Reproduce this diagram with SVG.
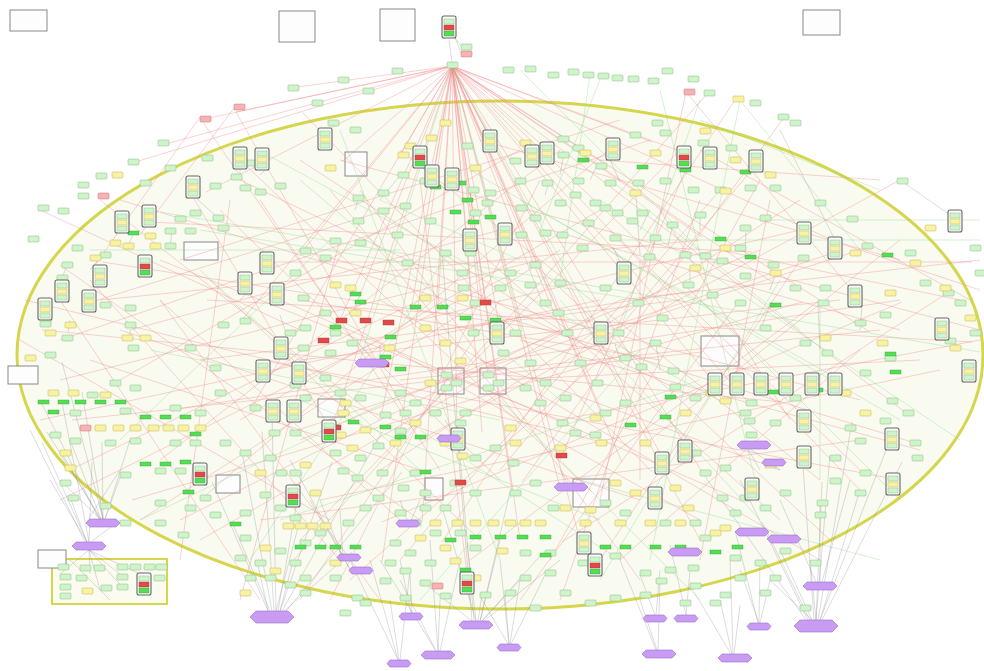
<svg xmlns="http://www.w3.org/2000/svg" xmlns:xlink="http://www.w3.org/1999/xlink" width="984" height="671" viewBox="0 0 984 671">
<style>
.er{fill:none;stroke:#f28a8a;stroke-width:.6;opacity:.65}
.eg{fill:none;stroke:#8ad88a;stroke-width:.6;opacity:.6}
.ek{fill:none;stroke:#8a8a8a;stroke-width:.5;opacity:.6}
.bx{fill:#fdfdfd;stroke:#888;stroke-width:1}
</style>
<defs>
<rect id="g" width="11" height="6" rx="1" fill="#cff4c9" stroke="#86b886" stroke-width=".5"/>
<rect id="y" width="11" height="6" rx="1" fill="#f7f2a4" stroke="#c2b24e" stroke-width=".5"/>
<rect id="r" width="11" height="6" rx="1" fill="#f5b3b3" stroke="#c47676" stroke-width=".5"/>
<rect id="G" width="11" height="4" fill="#52e052" stroke="#3a9a3a" stroke-width=".4"/>
<rect id="R" width="11" height="5" fill="#e24a4a" stroke="#a33" stroke-width=".4"/>
<g id="c"><rect width="14" height="22" rx="2" fill="#fafafa" stroke="#666" stroke-width="1.1"/><rect x="2" y="3" width="10" height="5" fill="#cff4c9" stroke="#86b886" stroke-width=".4"/><rect x="2" y="9" width="10" height="5" fill="#f7f2a4" stroke="#c2b24e" stroke-width=".4"/><rect x="2" y="15" width="10" height="5" fill="#cff4c9" stroke="#86b886" stroke-width=".4"/></g>
<g id="c2"><rect width="14" height="22" rx="2" fill="#fafafa" stroke="#666" stroke-width="1.1"/><rect x="2" y="3" width="10" height="5" fill="#cff4c9" stroke="#86b886" stroke-width=".4"/><rect x="2" y="9" width="10" height="5" fill="#e24a4a" stroke="#a33" stroke-width=".4"/><rect x="2" y="15" width="10" height="5" fill="#52e052" stroke="#3a9a3a" stroke-width=".4"/></g>
<polygon id="h" points="3,0 21,0 24,3.5 21,7 3,7 0,3.5" fill="#c89cf2" stroke="#9a6cd0" stroke-width=".6"/>
<polygon id="m" points="4,0 30,0 34,4 30,8 4,8 0,4" fill="#c89cf2" stroke="#9a6cd0" stroke-width=".6"/>
<polygon id="H" points="6,0 38,0 44,6 38,12 6,12 0,6" fill="#c89cf2" stroke="#9a6cd0" stroke-width=".6"/>
</defs>
<rect width="984" height="671" fill="#fff"/>
<g id="compartments">
<ellipse id="cell" cx="500" cy="355" rx="483" ry="254" fill="#f9fbf1" stroke="#d6d64e" stroke-width="3"/>
<rect id="degbox" x="52" y="559" width="115" height="45" fill="#fbfbef" stroke="#d6d64e" stroke-width="2"/>
<rect class="bx" x="10" y="10" width="37" height="21"/>
<rect class="bx" x="279" y="11" width="36" height="31"/>
<rect class="bx" x="380" y="9" width="35" height="32"/>
<rect class="bx" x="803" y="10" width="37" height="25"/>
<rect class="bx" x="8" y="366" width="30" height="18"/>
<rect class="bx" x="38" y="550" width="28" height="18"/>
<rect class="bx" x="184" y="242" width="34" height="18"/>
<rect class="bx" x="701" y="336" width="38" height="30"/>
<rect class="bx" x="573" y="479" width="36" height="28"/>
<rect class="bx" x="425" y="478" width="18" height="22"/>
<rect class="bx" x="216" y="475" width="24" height="18"/>
<rect class="bx" x="318" y="399" width="27" height="18"/>
<rect class="bx" x="345" y="152" width="22" height="24"/>
<rect class="bx" x="438" y="368" width="26" height="26" stroke="#666" stroke-width="1.3"/>
<rect class="bx" x="480" y="368" width="26" height="26" stroke="#666" stroke-width="1.3"/>
</g>
<g id="connectors">
<path class="er" d="M452 66L200 120M452 66L236 112M452 66L162 145M452 66L132 163M452 66L206 192M452 66L242 320M452 66L252 407M452 66L302 252M452 66L352 315M452 66L332 427M452 66L382 412M452 66L412 305M452 66L438 305M452 66L472 302M452 66L482 302M452 66L488 377M452 66L500 330M452 66L542 302M452 66L562 332M452 66L592 382M452 66L602 412M452 66L622 462M452 66L662 457M452 66L702 472M452 66L722 392M452 66L748 402M452 66L782 377M452 66L832 240M452 66L870 332M452 66L905 412M452 66L862 492M452 66L682 152M452 66L652 142M452 66L602 162M452 66L542 145M452 66L492 142M452 66L432 182M452 66L402 152M452 66L342 162M452 66L290 88M452 66L702 237M452 66L772 282M452 66L560 488M452 66L482 432M452 66L512 492M452 66L457 442M452 66L382 562M452 66L422 522M452 66L580 540M452 66L520 540M452 66L700 540M452 66L340 320"/>
<path class="er" d="M82 305L402 205M102 262L562 332M207 300L972 342M42 330L782 402M150 222L752 252M240 160L592 492M190 192L332 432M262 262L972 262M302 112L652 472M706 95L292 562M735 100L442 542M782 120L522 482M842 250L292 432M902 302L382 522M952 290L562 542M120 200L912 442M25 300L602 442M72 420L702 352M132 500L802 302M60 265L420 520M240 180L700 400M170 410L900 300M200 118L340 320M236 112L410 420M340 160L980 330M400 150L820 480M560 150L160 460M620 140L200 500M680 150L300 540M650 140L60 340M480 140L900 260M500 230L130 330M460 235L780 520M300 250L860 400M280 300L740 500M260 360L900 480M360 190L640 580M420 180L470 600M540 180L330 600M600 210L240 420M720 190L400 560M760 180L550 560M800 230L420 320M840 300L300 360M920 360L500 380M600 300L40 420M700 240L100 300M520 270L60 500M560 330L180 520M380 300L820 560M300 440L760 250M180 260L620 120M120 380L520 150M700 150L970 300M600 160L880 180M830 240L980 290M234 108L140 235M200 117L95 265M686 92L600 500M686 92L860 300M340 320L700 520M40 210L300 330M100 200L380 420M650 440L900 240"/>
<path class="er" d="M610 230L860 470M640 260L640 480M660 210L790 420M690 160L560 460M720 250L960 300M620 300L980 260M740 300L520 600M800 260L600 560M770 200L700 560M550 230L900 330M530 260L830 540M610 330L860 250M520 340L920 450M480 360L780 470M440 330L700 290M400 380L880 330M300 300L660 360M200 360L680 300M160 260L560 420M220 210L500 480M260 200L440 470M300 160L560 330M330 190L520 420M210 280L480 540M160 300L380 600M120 330L640 500M90 360L420 470M60 380L540 260M70 470L420 300M140 520L560 250M200 540L620 300M260 520L860 440M320 500L940 370M380 470L800 200M420 440L900 180M500 470L760 160M560 420L980 340M620 560L860 350M560 600L700 200M470 560L820 300M350 580L600 360M300 600L500 300M240 600L340 240M180 560L230 200M400 520L160 300M90 280L340 560M60 300L260 600M20 340L330 520"/>
<path class="eg" d="M160 212L980 352M262 152L722 402M452 66L522 332M452 66L600 330M452 66L360 360M200 230L640 300M300 180L560 400M470 170L900 420M520 200L840 380M740 100L860 250M700 100L620 330M330 240L120 440M390 400L140 520M420 430L620 560M500 400L700 600M580 480L880 560M560 300L760 520M600 200L960 440M340 130L500 560M280 520L700 380M450 250L250 560M820 300L820 480M640 350L420 600M90 250L400 250M760 220L980 220M610 180L800 330M380 200L520 260M660 90L760 500M600 80L540 230M780 280L600 580M880 190L700 120M420 470L200 270M590 75L560 280M520 70L700 250M740 100L650 560M620 240L980 240M700 300L900 500M300 400L600 520M150 350L500 420"/>
<path class="ek" d="M212 482L268 611M232 522L270 611M242 452L272 611M262 432L274 611M272 412L276 611M302 472L278 611M332 462L280 611M382 432L282 611M352 552L284 611M402 472L286 611M258 565L268 611M292 565L280 611M300 520L276 611M442 507L476 621M467 542L476 621M482 594L478 621M457 422L474 621M442 252L472 621M510 492L480 621M540 556L482 621M500 540L480 621M420 580L472 621M520 580L482 621M560 560L484 621M822 482L816 620M802 452L814 620M852 422L818 620M762 522L810 620M902 462L822 620M702 472L806 620M860 490L820 620M780 550L812 620M740 480L808 620M890 440L820 620M830 455L816 620M770 580L812 620M810 560L816 620M820 500L820 582M850 480L822 582M780 500L816 582M62 362L103 519M82 392L103 519M47 432L101 519M102 442L103 519M122 472L105 519M62 482L100 519M40 400L99 519M70 440L101 519M100 500L103 519M130 440L105 519M60 450L100 519M62 402L89 542M42 442L87 542M92 462L89 542M70 497L87 542M120 520L91 542M30 430L85 542M50 480L87 542M89 550L60 574M89 550L90 574M89 550L120 574M89 550L140 574M89 550L100 590M89 550L125 590M440 600L438 651M400 580L436 651M460 560L440 651M430 540L438 651M380 560L436 651M505 595L509 644M520 580L510 644M545 575L511 644M480 596L508 644M500 560L509 644M390 600L399 660M350 560L398 660M410 570L400 660M370 560L398 660M640 600L657 650M660 580L658 650M620 560L656 650M720 600L732 654M730 560L733 654M690 585L731 654M740 605L734 654M740 570L759 623M770 580L760 623M760 560L759 623M735 530L758 623M640 575L655 615M660 570L656 615M690 570L686 615M670 545L686 615M400 560L411 613M410 575L412 613M449 40L452 62M455 38L461 46M455 38L461 53M110 600L70 560M120 470L86 523M760 470L748 449M780 470L750 449M290 460L351 571M310 500L351 571M320 500L343 558M340 510L343 558M780 130L835 240M900 180L950 215M560 470L570 487M400 500L408 523M420 500L410 523M360 345L372 359M380 345L380 359M445 420L455 435M636 196L640 255M640 230L650 210M668 246L672 228M700 230L700 218M745 252L746 232M770 290L775 275M690 270L690 285M613 247L620 262M590 180L598 163M620 182L610 160M560 175L563 158M545 195L548 185M470 190L472 205M380 200L398 178M355 210L358 200M240 175L240 169M260 175L265 170M218 218L196 198M172 230L170 248M133 235L128 245M152 212L145 214M90 270L100 258M62 278L66 268M50 325L52 320M70 320L68 332M130 330L130 340M300 300L300 296M300 330L290 335M332 335L330 340M240 300L245 295M280 315L285 330M600 345L602 344M620 360L615 344M660 370L656 345M760 330L770 306M820 350L818 306M860 330L862 306"/>
</g>
<g id="nodes">
<g id="hub"><use href="#c2" x="442" y="16"/></g>
<g id="t1"><use href="#g" x="461" y="44"/></g><g id="t2"><use href="#r" x="461" y="51"/></g><g id="t3"><use href="#g" x="447" y="62"/></g>
<g id="g1"><use href="#g" x="288" y="85"/></g><g id="g2"><use href="#g" x="338" y="77"/></g><g id="g3"><use href="#g" x="392" y="68"/></g><g id="g4"><use href="#g" x="503" y="67"/></g><g id="g5"><use href="#g" x="525" y="66"/></g><g id="g6"><use href="#g" x="548" y="72"/></g><g id="g7"><use href="#g" x="568" y="69"/></g><g id="g8"><use href="#g" x="583" y="72"/></g><g id="g9"><use href="#g" x="598" y="73"/></g><g id="g10"><use href="#g" x="612" y="75"/></g><g id="g11"><use href="#g" x="628" y="76"/></g><g id="g12"><use href="#g" x="648" y="78"/></g><g id="g13"><use href="#g" x="662" y="68"/></g><g id="g14"><use href="#g" x="688" y="76"/></g><g id="g15"><use href="#g" x="704" y="90"/></g><g id="g16"><use href="#g" x="750" y="100"/></g><g id="g17"><use href="#g" x="778" y="114"/></g><g id="g18"><use href="#g" x="790" y="120"/></g><g id="g19"><use href="#g" x="363" y="88"/></g><g id="g20"><use href="#g" x="312" y="100"/></g><g id="g21"><use href="#g" x="158" y="140"/></g><g id="g22"><use href="#g" x="128" y="159"/></g><g id="g23"><use href="#g" x="96" y="173"/></g><g id="g24"><use href="#g" x="78" y="182"/></g><g id="g25"><use href="#g" x="78" y="193"/></g><g id="g26"><use href="#g" x="38" y="205"/></g><g id="g27"><use href="#g" x="28" y="236"/></g><g id="g28"><use href="#g" x="58" y="208"/></g><g id="g29"><use href="#g" x="897" y="178"/></g><g id="g30"><use href="#g" x="905" y="250"/></g><g id="g31"><use href="#g" x="920" y="280"/></g><g id="g32"><use href="#g" x="943" y="290"/></g><g id="g33"><use href="#g" x="970" y="245"/></g><g id="g34"><use href="#g" x="975" y="270"/></g><g id="g35"><use href="#g" x="955" y="300"/></g><g id="g36"><use href="#g" x="970" y="330"/></g><g id="g37"><use href="#g" x="945" y="338"/></g><g id="g38"><use href="#g" x="880" y="312"/></g><g id="g39"><use href="#g" x="855" y="320"/></g><g id="g40"><use href="#g" x="862" y="243"/></g><g id="g41"><use href="#g" x="847" y="216"/></g><g id="g42"><use href="#g" x="815" y="200"/></g><g id="g43"><use href="#g" x="798" y="255"/></g><g id="g44"><use href="#g" x="820" y="285"/></g><g id="g45"><use href="#g" x="818" y="300"/></g><g id="g46"><use href="#g" x="790" y="285"/></g><g id="g47"><use href="#g" x="760" y="325"/></g><g id="g48"><use href="#g" x="800" y="340"/></g><g id="g49"><use href="#g" x="822" y="350"/></g><g id="g50"><use href="#g" x="860" y="370"/></g><g id="g51"><use href="#g" x="885" y="355"/></g><g id="g52"><use href="#g" x="887" y="398"/></g><g id="g53"><use href="#g" x="903" y="410"/></g><g id="g54"><use href="#g" x="880" y="418"/></g><g id="g55"><use href="#g" x="845" y="425"/></g><g id="g56"><use href="#g" x="855" y="438"/></g><g id="g57"><use href="#g" x="830" y="455"/></g><g id="g58"><use href="#g" x="860" y="470"/></g><g id="g59"><use href="#g" x="855" y="490"/></g><g id="g60"><use href="#g" x="830" y="478"/></g><g id="g61"><use href="#g" x="817" y="500"/></g><g id="g62"><use href="#g" x="815" y="512"/></g><g id="g63"><use href="#g" x="910" y="440"/></g><g id="g64"><use href="#g" x="912" y="455"/></g><g id="g65"><use href="#g" x="746" y="400"/></g><g id="g66"><use href="#g" x="740" y="410"/></g><g id="g67"><use href="#g" x="744" y="418"/></g><g id="g68"><use href="#g" x="746" y="432"/></g><g id="g69"><use href="#g" x="770" y="420"/></g><g id="g70"><use href="#g" x="790" y="395"/></g><g id="g71"><use href="#g" x="690" y="395"/></g><g id="g72"><use href="#g" x="668" y="368"/></g><g id="g73"><use href="#g" x="670" y="384"/></g><g id="g74"><use href="#g" x="636" y="364"/></g><g id="g75"><use href="#g" x="650" y="340"/></g><g id="g76"><use href="#g" x="633" y="300"/></g><g id="g77"><use href="#g" x="657" y="315"/></g><g id="g78"><use href="#g" x="644" y="254"/></g><g id="g79"><use href="#g" x="610" y="235"/></g><g id="g80"><use href="#g" x="627" y="218"/></g><g id="g81"><use href="#g" x="667" y="222"/></g><g id="g82"><use href="#g" x="695" y="212"/></g><g id="g83"><use href="#g" x="715" y="187"/></g><g id="g84"><use href="#g" x="740" y="225"/></g><g id="g85"><use href="#g" x="760" y="215"/></g><g id="g86"><use href="#g" x="683" y="282"/></g><g id="g87"><use href="#g" x="707" y="292"/></g><g id="g88"><use href="#g" x="735" y="300"/></g><g id="g89"><use href="#g" x="600" y="285"/></g><g id="g90"><use href="#g" x="613" y="330"/></g><g id="g91"><use href="#g" x="620" y="355"/></g><g id="g92"><use href="#g" x="592" y="380"/></g><g id="g93"><use href="#g" x="575" y="360"/></g><g id="g94"><use href="#g" x="562" y="330"/></g><g id="g95"><use href="#g" x="553" y="310"/></g><g id="g96"><use href="#g" x="540" y="300"/></g><g id="g97"><use href="#g" x="555" y="280"/></g><g id="g98"><use href="#g" x="530" y="262"/></g><g id="g99"><use href="#g" x="525" y="282"/></g><g id="g100"><use href="#g" x="505" y="270"/></g><g id="g101"><use href="#g" x="495" y="285"/></g><g id="g102"><use href="#g" x="510" y="330"/></g><g id="g103"><use href="#g" x="498" y="350"/></g><g id="g104"><use href="#g" x="468" y="330"/></g><g id="g105"><use href="#g" x="470" y="300"/></g><g id="g106"><use href="#g" x="457" y="270"/></g><g id="g107"><use href="#g" x="458" y="285"/></g><g id="g108"><use href="#g" x="470" y="210"/></g><g id="g109"><use href="#g" x="482" y="200"/></g><g id="g110"><use href="#g" x="516" y="232"/></g><g id="g111"><use href="#g" x="465" y="250"/></g><g id="g112"><use href="#g" x="440" y="250"/></g><g id="g113"><use href="#g" x="425" y="218"/></g><g id="g114"><use href="#g" x="400" y="203"/></g><g id="g115"><use href="#g" x="378" y="208"/></g><g id="g116"><use href="#g" x="392" y="232"/></g><g id="g117"><use href="#g" x="402" y="260"/></g><g id="g118"><use href="#g" x="355" y="240"/></g><g id="g119"><use href="#g" x="330" y="238"/></g><g id="g120"><use href="#g" x="320" y="255"/></g><g id="g121"><use href="#g" x="300" y="248"/></g><g id="g122"><use href="#g" x="290" y="270"/></g><g id="g123"><use href="#g" x="285" y="330"/></g><g id="g124"><use href="#g" x="300" y="325"/></g><g id="g125"><use href="#g" x="320" y="310"/></g><g id="g126"><use href="#g" x="298" y="295"/></g><g id="g127"><use href="#g" x="330" y="330"/></g><g id="g128"><use href="#g" x="325" y="350"/></g><g id="g129"><use href="#g" x="347" y="340"/></g><g id="g130"><use href="#g" x="298" y="345"/></g><g id="g131"><use href="#g" x="213" y="215"/></g><g id="g132"><use href="#g" x="218" y="225"/></g><g id="g133"><use href="#g" x="190" y="210"/></g><g id="g134"><use href="#g" x="175" y="216"/></g><g id="g135"><use href="#g" x="185" y="228"/></g><g id="g136"><use href="#g" x="165" y="228"/></g><g id="g137"><use href="#g" x="165" y="243"/></g><g id="g138"><use href="#g" x="100" y="252"/></g><g id="g139"><use href="#g" x="72" y="245"/></g><g id="g140"><use href="#g" x="62" y="262"/></g><g id="g141"><use href="#g" x="57" y="275"/></g><g id="g142"><use href="#g" x="40" y="321"/></g><g id="g143"><use href="#g" x="62" y="335"/></g><g id="g144"><use href="#g" x="45" y="352"/></g><g id="g145"><use href="#g" x="100" y="302"/></g><g id="g146"><use href="#g" x="125" y="305"/></g><g id="g147"><use href="#g" x="125" y="322"/></g><g id="g148"><use href="#g" x="128" y="345"/></g><g id="g149"><use href="#g" x="185" y="345"/></g><g id="g150"><use href="#g" x="240" y="318"/></g><g id="g151"><use href="#g" x="218" y="322"/></g><g id="g152"><use href="#g" x="210" y="365"/></g><g id="g153"><use href="#g" x="215" y="390"/></g><g id="g154"><use href="#g" x="195" y="410"/></g><g id="g155"><use href="#g" x="170" y="405"/></g><g id="g156"><use href="#g" x="130" y="385"/></g><g id="g157"><use href="#g" x="110" y="380"/></g><g id="g158"><use href="#g" x="120" y="408"/></g><g id="g159"><use href="#g" x="87" y="392"/></g><g id="g160"><use href="#g" x="70" y="410"/></g><g id="g161"><use href="#g" x="50" y="432"/></g><g id="g162"><use href="#g" x="70" y="438"/></g><g id="g163"><use href="#g" x="105" y="440"/></g><g id="g164"><use href="#g" x="130" y="438"/></g><g id="g165"><use href="#g" x="120" y="472"/></g><g id="g166"><use href="#g" x="155" y="468"/></g><g id="g167"><use href="#g" x="175" y="468"/></g><g id="g168"><use href="#g" x="155" y="500"/></g><g id="g169"><use href="#g" x="120" y="520"/></g><g id="g170"><use href="#g" x="100" y="503"/></g><g id="g171"><use href="#g" x="68" y="495"/></g><g id="g172"><use href="#g" x="60" y="480"/></g><g id="g173"><use href="#g" x="185" y="505"/></g><g id="g174"><use href="#g" x="155" y="520"/></g><g id="g175"><use href="#g" x="200" y="495"/></g><g id="g176"><use href="#g" x="178" y="532"/></g><g id="g177"><use href="#g" x="210" y="512"/></g><g id="g178"><use href="#g" x="240" y="510"/></g><g id="g179"><use href="#g" x="260" y="492"/></g><g id="g180"><use href="#g" x="275" y="505"/></g><g id="g181"><use href="#g" x="290" y="515"/></g><g id="g182"><use href="#g" x="240" y="535"/></g><g id="g183"><use href="#g" x="255" y="560"/></g><g id="g184"><use href="#g" x="265" y="575"/></g><g id="g185"><use href="#g" x="290" y="560"/></g><g id="g186"><use href="#g" x="315" y="530"/></g><g id="g187"><use href="#g" x="343" y="520"/></g><g id="g188"><use href="#g" x="360" y="505"/></g><g id="g189"><use href="#g" x="373" y="495"/></g><g id="g190"><use href="#g" x="352" y="475"/></g><g id="g191"><use href="#g" x="338" y="468"/></g><g id="g192"><use href="#g" x="330" y="450"/></g><g id="g193"><use href="#g" x="355" y="455"/></g><g id="g194"><use href="#g" x="373" y="443"/></g><g id="g195"><use href="#g" x="380" y="412"/></g><g id="g196"><use href="#g" x="400" y="410"/></g><g id="g197"><use href="#g" x="395" y="428"/></g><g id="g198"><use href="#g" x="377" y="470"/></g><g id="g199"><use href="#g" x="410" y="470"/></g><g id="g200"><use href="#g" x="398" y="485"/></g><g id="g201"><use href="#g" x="420" y="490"/></g><g id="g202"><use href="#g" x="440" y="505"/></g><g id="g203"><use href="#g" x="420" y="505"/></g><g id="g204"><use href="#g" x="430" y="530"/></g><g id="g205"><use href="#g" x="455" y="530"/></g><g id="g206"><use href="#g" x="470" y="545"/></g><g id="g207"><use href="#g" x="520" y="550"/></g><g id="g208"><use href="#g" x="545" y="550"/></g><g id="g209"><use href="#g" x="578" y="560"/></g><g id="g210"><use href="#g" x="610" y="553"/></g><g id="g211"><use href="#g" x="640" y="570"/></g><g id="g212"><use href="#g" x="665" y="567"/></g><g id="g213"><use href="#g" x="688" y="565"/></g><g id="g214"><use href="#g" x="735" y="575"/></g><g id="g215"><use href="#g" x="730" y="555"/></g><g id="g216"><use href="#g" x="640" y="592"/></g><g id="g217"><use href="#g" x="656" y="578"/></g><g id="g218"><use href="#g" x="690" y="583"/></g><g id="g219"><use href="#g" x="720" y="592"/></g><g id="g220"><use href="#g" x="755" y="560"/></g><g id="g221"><use href="#g" x="770" y="575"/></g><g id="g222"><use href="#g" x="760" y="590"/></g><g id="g223"><use href="#g" x="810" y="560"/></g><g id="g224"><use href="#g" x="780" y="548"/></g><g id="g225"><use href="#g" x="545" y="570"/></g><g id="g226"><use href="#g" x="520" y="575"/></g><g id="g227"><use href="#g" x="505" y="590"/></g><g id="g228"><use href="#g" x="480" y="592"/></g><g id="g229"><use href="#g" x="440" y="593"/></g><g id="g230"><use href="#g" x="420" y="580"/></g><g id="g231"><use href="#g" x="425" y="560"/></g><g id="g232"><use href="#g" x="400" y="568"/></g><g id="g233"><use href="#g" x="385" y="560"/></g><g id="g234"><use href="#g" x="380" y="578"/></g><g id="g235"><use href="#g" x="352" y="595"/></g><g id="g236"><use href="#g" x="330" y="575"/></g><g id="g237"><use href="#g" x="300" y="575"/></g><g id="g238"><use href="#g" x="285" y="582"/></g><g id="g239"><use href="#g" x="275" y="548"/></g><g id="g240"><use href="#g" x="300" y="540"/></g><g id="g241"><use href="#g" x="390" y="540"/></g><g id="g242"><use href="#g" x="405" y="550"/></g><g id="g243"><use href="#g" x="410" y="520"/></g><g id="g244"><use href="#g" x="395" y="510"/></g><g id="g245"><use href="#g" x="290" y="470"/></g><g id="g246"><use href="#g" x="276" y="470"/></g><g id="g247"><use href="#g" x="265" y="455"/></g><g id="g248"><use href="#g" x="269" y="430"/></g><g id="g249"><use href="#g" x="290" y="430"/></g><g id="g250"><use href="#g" x="250" y="405"/></g><g id="g251"><use href="#g" x="240" y="450"/></g><g id="g252"><use href="#g" x="220" y="440"/></g><g id="g253"><use href="#g" x="170" y="440"/></g><g id="g254"><use href="#g" x="190" y="440"/></g><g id="g255"><use href="#g" x="540" y="230"/></g><g id="g256"><use href="#g" x="557" y="232"/></g><g id="g257"><use href="#g" x="577" y="245"/></g><g id="g258"><use href="#g" x="583" y="220"/></g><g id="g259"><use href="#g" x="590" y="200"/></g><g id="g260"><use href="#g" x="570" y="192"/></g><g id="g261"><use href="#g" x="555" y="200"/></g><g id="g262"><use href="#g" x="516" y="205"/></g><g id="g263"><use href="#g" x="530" y="215"/></g><g id="g264"><use href="#g" x="600" y="205"/></g><g id="g265"><use href="#g" x="612" y="210"/></g><g id="g266"><use href="#g" x="637" y="210"/></g><g id="g267"><use href="#g" x="650" y="235"/></g><g id="g268"><use href="#g" x="680" y="252"/></g><g id="g269"><use href="#g" x="700" y="253"/></g><g id="g270"><use href="#g" x="717" y="258"/></g><g id="g271"><use href="#g" x="735" y="245"/></g><g id="g272"><use href="#g" x="740" y="273"/></g><g id="g273"><use href="#g" x="768" y="262"/></g><g id="g274"><use href="#g" x="620" y="400"/></g><g id="g275"><use href="#g" x="600" y="410"/></g><g id="g276"><use href="#g" x="590" y="432"/></g><g id="g277"><use href="#g" x="570" y="430"/></g><g id="g278"><use href="#g" x="557" y="420"/></g><g id="g279"><use href="#g" x="535" y="400"/></g><g id="g280"><use href="#g" x="520" y="385"/></g><g id="g281"><use href="#g" x="540" y="380"/></g><g id="g282"><use href="#g" x="560" y="395"/></g><g id="g283"><use href="#g" x="525" y="360"/></g><g id="g284"><use href="#g" x="460" y="410"/></g><g id="g285"><use href="#g" x="430" y="410"/></g><g id="g286"><use href="#g" x="470" y="455"/></g><g id="g287"><use href="#g" x="490" y="445"/></g><g id="g288"><use href="#g" x="508" y="460"/></g><g id="g289"><use href="#g" x="510" y="490"/></g><g id="g290"><use href="#g" x="530" y="480"/></g><g id="g291"><use href="#g" x="548" y="505"/></g><g id="g292"><use href="#g" x="600" y="500"/></g><g id="g293"><use href="#g" x="620" y="510"/></g><g id="g294"><use href="#g" x="700" y="470"/></g><g id="g295"><use href="#g" x="690" y="450"/></g><g id="g296"><use href="#g" x="720" y="465"/></g><g id="g297"><use href="#g" x="740" y="495"/></g><g id="g298"><use href="#g" x="730" y="510"/></g><g id="g299"><use href="#g" x="760" y="505"/></g><g id="g300"><use href="#g" x="780" y="490"/></g><g id="g301"><use href="#g" x="717" y="495"/></g><g id="g302"><use href="#g" x="660" y="520"/></g><g id="g303"><use href="#g" x="690" y="520"/></g><g id="g304"><use href="#g" x="700" y="535"/></g><g id="g305"><use href="#g" x="450" y="480"/></g><g id="g306"><use href="#g" x="470" y="490"/></g><g id="g307"><use href="#g" x="455" y="420"/></g><g id="g308"><use href="#g" x="410" y="400"/></g><g id="g309"><use href="#g" x="395" y="390"/></g><g id="g310"><use href="#g" x="355" y="395"/></g><g id="g311"><use href="#g" x="335" y="390"/></g><g id="g312"><use href="#g" x="320" y="375"/></g><g id="g313"><use href="#g" x="300" y="395"/></g><g id="g314"><use href="#g" x="290" y="382"/></g><g id="g315"><use href="#g" x="202" y="155"/></g><g id="g316"><use href="#g" x="231" y="174"/></g><g id="g317"><use href="#g" x="210" y="183"/></g><g id="g318"><use href="#g" x="240" y="185"/></g><g id="g319"><use href="#g" x="255" y="189"/></g><g id="g320"><use href="#g" x="275" y="183"/></g><g id="g321"><use href="#g" x="328" y="120"/></g><g id="g322"><use href="#g" x="350" y="127"/></g><g id="g323"><use href="#g" x="353" y="195"/></g><g id="g324"><use href="#g" x="353" y="218"/></g><g id="g325"><use href="#g" x="378" y="190"/></g><g id="g326"><use href="#g" x="398" y="172"/></g><g id="g327"><use href="#g" x="462" y="143"/></g><g id="g328"><use href="#g" x="468" y="187"/></g><g id="g329"><use href="#g" x="510" y="158"/></g><g id="g330"><use href="#g" x="558" y="136"/></g><g id="g331"><use href="#g" x="558" y="152"/></g><g id="g332"><use href="#g" x="573" y="145"/></g><g id="g333"><use href="#g" x="596" y="163"/></g><g id="g334"><use href="#g" x="630" y="132"/></g><g id="g335"><use href="#g" x="652" y="120"/></g><g id="g336"><use href="#g" x="660" y="130"/></g><g id="g337"><use href="#g" x="698" y="140"/></g><g id="g338"><use href="#g" x="726" y="145"/></g><g id="g339"><use href="#g" x="770" y="185"/></g><g id="g340"><use href="#g" x="745" y="185"/></g><g id="g341"><use href="#g" x="688" y="187"/></g><g id="g342"><use href="#g" x="660" y="178"/></g><g id="g343"><use href="#g" x="633" y="180"/></g><g id="g344"><use href="#g" x="605" y="180"/></g><g id="g345"><use href="#g" x="573" y="178"/></g><g id="g346"><use href="#g" x="542" y="180"/></g><g id="g347"><use href="#g" x="515" y="178"/></g><g id="g348"><use href="#g" x="485" y="190"/></g><g id="g349"><use href="#g" x="420" y="178"/></g><g id="g350"><use href="#g" x="235" y="555"/></g><g id="g351"><use href="#g" x="245" y="575"/></g><g id="g352"><use href="#g" x="300" y="590"/></g><g id="g353"><use href="#g" x="340" y="610"/></g><g id="g354"><use href="#g" x="360" y="600"/></g><g id="g355"><use href="#g" x="400" y="595"/></g><g id="g356"><use href="#g" x="530" y="605"/></g><g id="g357"><use href="#g" x="560" y="590"/></g><g id="g358"><use href="#g" x="585" y="600"/></g><g id="g359"><use href="#g" x="610" y="595"/></g><g id="g360"><use href="#g" x="680" y="600"/></g><g id="g361"><use href="#g" x="710" y="600"/></g><g id="g362"><use href="#g" x="800" y="605"/></g><g id="g363"><use href="#g" x="245" y="160"/></g><g id="g364"><use href="#g" x="165" y="165"/></g><g id="g365"><use href="#g" x="140" y="180"/></g><g id="g366"><use href="#g" x="441" y="372"/></g><g id="g367"><use href="#g" x="451" y="380"/></g><g id="g368"><use href="#g" x="441" y="385"/></g><g id="g369"><use href="#g" x="483" y="372"/></g><g id="g370"><use href="#g" x="493" y="380"/></g><g id="g371"><use href="#g" x="483" y="385"/></g>
<g id="b1"><use href="#g" x="58" y="564"/></g><g id="b2"><use href="#g" x="80" y="565"/></g><g id="b3"><use href="#g" x="94" y="565"/></g><g id="b4"><use href="#g" x="117" y="564"/></g><g id="b5"><use href="#g" x="130" y="564"/></g><g id="b6"><use href="#g" x="144" y="564"/></g><g id="b7"><use href="#g" x="156" y="564"/></g><g id="b8"><use href="#g" x="60" y="574"/></g><g id="b9"><use href="#g" x="76" y="575"/></g><g id="b10"><use href="#g" x="117" y="574"/></g><g id="b11"><use href="#g" x="154" y="575"/></g><g id="b12"><use href="#g" x="60" y="584"/></g><g id="b13"><use href="#g" x="101" y="585"/></g><g id="b14"><use href="#g" x="117" y="584"/></g><g id="b15"><use href="#g" x="60" y="593"/></g><g id="b16"><use href="#y" x="82" y="588"/></g><g id="b17"><use href="#c2" x="137" y="573"/></g>
<g id="y1"><use href="#y" x="112" y="172"/></g><g id="y2"><use href="#y" x="123" y="243"/></g><g id="y3"><use href="#y" x="145" y="233"/></g><g id="y4"><use href="#y" x="325" y="165"/></g><g id="y5"><use href="#y" x="405" y="143"/></g><g id="y6"><use href="#y" x="426" y="135"/></g><g id="y7"><use href="#y" x="398" y="152"/></g><g id="y8"><use href="#y" x="470" y="165"/></g><g id="y9"><use href="#y" x="440" y="120"/></g><g id="y10"><use href="#y" x="520" y="140"/></g><g id="y11"><use href="#y" x="580" y="150"/></g><g id="y12"><use href="#y" x="630" y="190"/></g><g id="y13"><use href="#y" x="650" y="150"/></g><g id="y14"><use href="#y" x="700" y="128"/></g><g id="y15"><use href="#y" x="730" y="157"/></g><g id="y16"><use href="#y" x="765" y="172"/></g><g id="y17"><use href="#y" x="720" y="188"/></g><g id="y18"><use href="#y" x="733" y="96"/></g><g id="y19"><use href="#y" x="345" y="285"/></g><g id="y20"><use href="#y" x="420" y="295"/></g><g id="y21"><use href="#y" x="457" y="295"/></g><g id="y22"><use href="#y" x="420" y="325"/></g><g id="y23"><use href="#y" x="384" y="345"/></g><g id="y24"><use href="#y" x="338" y="410"/></g><g id="y25"><use href="#y" x="335" y="432"/></g><g id="y26"><use href="#y" x="347" y="445"/></g><g id="y27"><use href="#y" x="410" y="420"/></g><g id="y28"><use href="#y" x="390" y="440"/></g><g id="y29"><use href="#y" x="440" y="440"/></g><g id="y30"><use href="#y" x="505" y="425"/></g><g id="y31"><use href="#y" x="510" y="440"/></g><g id="y32"><use href="#y" x="457" y="453"/></g><g id="y33"><use href="#y" x="497" y="548"/></g><g id="y34"><use href="#y" x="440" y="545"/></g><g id="y35"><use href="#y" x="430" y="520"/></g><g id="y36"><use href="#y" x="452" y="520"/></g><g id="y37"><use href="#y" x="470" y="520"/></g><g id="y38"><use href="#y" x="488" y="520"/></g><g id="y39"><use href="#y" x="505" y="520"/></g><g id="y40"><use href="#y" x="520" y="520"/></g><g id="y41"><use href="#y" x="535" y="520"/></g><g id="y42"><use href="#y" x="580" y="520"/></g><g id="y43"><use href="#y" x="615" y="520"/></g><g id="y44"><use href="#y" x="645" y="520"/></g><g id="y45"><use href="#y" x="675" y="520"/></g><g id="y46"><use href="#y" x="710" y="530"/></g><g id="y47"><use href="#y" x="640" y="440"/></g><g id="y48"><use href="#y" x="680" y="410"/></g><g id="y49"><use href="#y" x="706" y="390"/></g><g id="y50"><use href="#y" x="720" y="398"/></g><g id="y51"><use href="#y" x="765" y="462"/></g><g id="y52"><use href="#y" x="590" y="415"/></g><g id="y53"><use href="#y" x="596" y="440"/></g><g id="y54"><use href="#y" x="555" y="445"/></g><g id="y55"><use href="#y" x="330" y="560"/></g><g id="y56"><use href="#y" x="260" y="545"/></g><g id="y57"><use href="#y" x="270" y="568"/></g><g id="y58"><use href="#y" x="240" y="590"/></g><g id="y59"><use href="#y" x="283" y="523"/></g><g id="y60"><use href="#y" x="295" y="523"/></g><g id="y61"><use href="#y" x="307" y="523"/></g><g id="y62"><use href="#y" x="320" y="523"/></g><g id="y63"><use href="#y" x="130" y="425"/></g><g id="y64"><use href="#y" x="148" y="425"/></g><g id="y65"><use href="#y" x="163" y="425"/></g><g id="y66"><use href="#y" x="178" y="425"/></g><g id="y67"><use href="#y" x="195" y="425"/></g><g id="y68"><use href="#y" x="113" y="425"/></g><g id="y69"><use href="#y" x="95" y="425"/></g><g id="y70"><use href="#r" x="80" y="425"/></g><g id="y71"><use href="#y" x="68" y="390"/></g><g id="y72"><use href="#y" x="48" y="390"/></g><g id="y73"><use href="#y" x="100" y="392"/></g><g id="y74"><use href="#y" x="60" y="450"/></g><g id="y75"><use href="#y" x="65" y="465"/></g><g id="y76"><use href="#y" x="25" y="355"/></g><g id="y77"><use href="#y" x="45" y="330"/></g><g id="y78"><use href="#y" x="65" y="322"/></g><g id="y79"><use href="#y" x="122" y="335"/></g><g id="y80"><use href="#y" x="140" y="335"/></g><g id="y81"><use href="#y" x="90" y="255"/></g><g id="y82"><use href="#y" x="110" y="240"/></g><g id="y83"><use href="#y" x="150" y="243"/></g><g id="y84"><use href="#y" x="770" y="270"/></g><g id="y85"><use href="#y" x="820" y="335"/></g><g id="y86"><use href="#y" x="850" y="250"/></g><g id="y87"><use href="#y" x="910" y="260"/></g><g id="y88"><use href="#y" x="925" y="225"/></g><g id="y89"><use href="#y" x="940" y="285"/></g><g id="y90"><use href="#y" x="965" y="315"/></g><g id="y91"><use href="#y" x="950" y="345"/></g><g id="y92"><use href="#y" x="885" y="290"/></g><g id="y93"><use href="#y" x="877" y="340"/></g><g id="y94"><use href="#y" x="860" y="410"/></g><g id="y95"><use href="#y" x="840" y="390"/></g><g id="y96"><use href="#y" x="720" y="245"/></g><g id="y97"><use href="#y" x="690" y="265"/></g><g id="y98"><use href="#y" x="630" y="490"/></g><g id="y99"><use href="#y" x="610" y="480"/></g><g id="y100"><use href="#y" x="670" y="485"/></g><g id="y101"><use href="#y" x="683" y="505"/></g><g id="y102"><use href="#y" x="720" y="525"/></g><g id="y103"><use href="#y" x="560" y="505"/></g><g id="y104"><use href="#y" x="585" y="507"/></g><g id="y105"><use href="#y" x="470" y="575"/></g><g id="y106"><use href="#y" x="450" y="558"/></g><g id="y107"><use href="#y" x="415" y="535"/></g><g id="y108"><use href="#y" x="300" y="462"/></g><g id="y109"><use href="#y" x="310" y="490"/></g><g id="y110"><use href="#y" x="255" y="470"/></g><g id="y111"><use href="#y" x="340" y="400"/></g><g id="y112"><use href="#y" x="360" y="427"/></g><g id="y113"><use href="#y" x="425" y="380"/></g><g id="y114"><use href="#y" x="455" y="358"/></g><g id="y115"><use href="#y" x="440" y="340"/></g><g id="y116"><use href="#y" x="350" y="310"/></g><g id="y117"><use href="#y" x="330" y="282"/></g>
<g id="r1"><use href="#r" x="200" y="116"/></g><g id="r2"><use href="#r" x="234" y="104"/></g><g id="r3"><use href="#r" x="98" y="193"/></g><g id="r4"><use href="#r" x="684" y="89"/></g><g id="r5"><use href="#r" x="432" y="583"/></g>
<g id="G1"><use href="#G" x="128" y="231"/></g><g id="G2"><use href="#G" x="38" y="400"/></g><g id="G3"><use href="#G" x="58" y="400"/></g><g id="G4"><use href="#G" x="75" y="400"/></g><g id="G5"><use href="#G" x="95" y="400"/></g><g id="G6"><use href="#G" x="115" y="400"/></g><g id="G7"><use href="#G" x="140" y="415"/></g><g id="G8"><use href="#G" x="160" y="415"/></g><g id="G9"><use href="#G" x="180" y="415"/></g><g id="G10"><use href="#G" x="190" y="432"/></g><g id="G11"><use href="#G" x="140" y="462"/></g><g id="G12"><use href="#G" x="160" y="462"/></g><g id="G13"><use href="#G" x="180" y="460"/></g><g id="G14"><use href="#G" x="183" y="490"/></g><g id="G15"><use href="#G" x="330" y="325"/></g><g id="G16"><use href="#G" x="350" y="292"/></g><g id="G17"><use href="#G" x="355" y="300"/></g><g id="G18"><use href="#G" x="410" y="305"/></g><g id="G19"><use href="#G" x="437" y="305"/></g><g id="G20"><use href="#G" x="460" y="316"/></g><g id="G21"><use href="#G" x="385" y="335"/></g><g id="G22"><use href="#G" x="380" y="355"/></g><g id="G23"><use href="#G" x="395" y="367"/></g><g id="G24"><use href="#G" x="445" y="538"/></g><g id="G25"><use href="#G" x="470" y="535"/></g><g id="G26"><use href="#G" x="495" y="535"/></g><g id="G27"><use href="#G" x="517" y="535"/></g><g id="G28"><use href="#G" x="540" y="535"/></g><g id="G29"><use href="#G" x="600" y="545"/></g><g id="G30"><use href="#G" x="620" y="545"/></g><g id="G31"><use href="#G" x="650" y="545"/></g><g id="G32"><use href="#G" x="675" y="545"/></g><g id="G33"><use href="#G" x="710" y="550"/></g><g id="G34"><use href="#G" x="732" y="545"/></g><g id="G35"><use href="#G" x="455" y="181"/></g><g id="G36"><use href="#G" x="462" y="198"/></g><g id="G37"><use href="#G" x="450" y="210"/></g><g id="G38"><use href="#G" x="468" y="220"/></g><g id="G39"><use href="#G" x="485" y="215"/></g><g id="G40"><use href="#G" x="430" y="185"/></g><g id="G41"><use href="#G" x="578" y="158"/></g><g id="G42"><use href="#G" x="637" y="165"/></g><g id="G43"><use href="#G" x="680" y="168"/></g><g id="G44"><use href="#G" x="740" y="170"/></g><g id="G45"><use href="#G" x="715" y="237"/></g><g id="G46"><use href="#G" x="745" y="255"/></g><g id="G47"><use href="#G" x="770" y="303"/></g><g id="G48"><use href="#G" x="882" y="253"/></g><g id="G49"><use href="#G" x="885" y="352"/></g><g id="G50"><use href="#G" x="890" y="370"/></g><g id="G51"><use href="#G" x="768" y="390"/></g><g id="G52"><use href="#G" x="812" y="388"/></g><g id="G53"><use href="#G" x="660" y="415"/></g><g id="G54"><use href="#G" x="625" y="423"/></g><g id="G55"><use href="#G" x="665" y="395"/></g><g id="G56"><use href="#G" x="348" y="420"/></g><g id="G57"><use href="#G" x="380" y="425"/></g><g id="G58"><use href="#G" x="395" y="435"/></g><g id="G59"><use href="#G" x="415" y="435"/></g><g id="G60"><use href="#G" x="420" y="470"/></g><g id="G61"><use href="#G" x="460" y="568"/></g><g id="G62"><use href="#G" x="295" y="545"/></g><g id="G63"><use href="#G" x="315" y="545"/></g><g id="G64"><use href="#G" x="330" y="545"/></g><g id="G65"><use href="#G" x="350" y="545"/></g><g id="G66"><use href="#G" x="230" y="522"/></g><g id="G67"><use href="#G" x="195" y="472"/></g><g id="G68"><use href="#G" x="48" y="410"/></g><g id="G69"><use href="#G" x="540" y="553"/></g><g id="G70"><use href="#G" x="490" y="318"/></g>
<g id="R1"><use href="#R" x="330" y="425"/></g><g id="R2"><use href="#R" x="480" y="300"/></g><g id="R3"><use href="#R" x="556" y="453"/></g><g id="R4"><use href="#R" x="336" y="318"/></g><g id="R5"><use href="#R" x="360" y="318"/></g><g id="R6"><use href="#R" x="318" y="338"/></g><g id="R7"><use href="#R" x="378" y="362"/></g><g id="R8"><use href="#R" x="455" y="480"/></g><g id="R9"><use href="#R" x="383" y="320"/></g>
<g id="c1"><use href="#c" x="233" y="147"/></g><g id="c3"><use href="#c" x="255" y="148"/></g><g id="c4"><use href="#c" x="186" y="176"/></g><g id="c5"><use href="#c" x="318" y="128"/></g><g id="c6"><use href="#c2" x="413" y="146"/></g><g id="c7"><use href="#c" x="425" y="165"/></g><g id="c8"><use href="#c" x="445" y="168"/></g><g id="c9"><use href="#c" x="483" y="130"/></g><g id="c10"><use href="#c" x="525" y="145"/></g><g id="c11"><use href="#c" x="540" y="142"/></g><g id="c12"><use href="#c" x="606" y="138"/></g><g id="c13"><use href="#c2" x="677" y="146"/></g><g id="c14"><use href="#c" x="703" y="147"/></g><g id="c15"><use href="#c" x="749" y="150"/></g><g id="c16"><use href="#c" x="948" y="210"/></g><g id="c17"><use href="#c" x="935" y="318"/></g><g id="c18"><use href="#c" x="828" y="237"/></g><g id="c19"><use href="#c" x="797" y="222"/></g><g id="c20"><use href="#c" x="848" y="285"/></g><g id="c21"><use href="#c" x="797" y="410"/></g><g id="c22"><use href="#c" x="797" y="446"/></g><g id="c23"><use href="#c" x="885" y="428"/></g><g id="c24"><use href="#c" x="886" y="473"/></g><g id="c25"><use href="#c" x="708" y="373"/></g><g id="c26"><use href="#c" x="730" y="373"/></g><g id="c27"><use href="#c" x="754" y="373"/></g><g id="c28"><use href="#c" x="779" y="373"/></g><g id="c29"><use href="#c" x="805" y="373"/></g><g id="c30"><use href="#c" x="828" y="373"/></g><g id="c31"><use href="#c" x="617" y="262"/></g><g id="c32"><use href="#c" x="594" y="322"/></g><g id="c33"><use href="#c" x="490" y="322"/></g><g id="c34"><use href="#c" x="463" y="229"/></g><g id="c35"><use href="#c" x="498" y="223"/></g><g id="c36"><use href="#c" x="270" y="283"/></g><g id="c37"><use href="#c" x="274" y="337"/></g><g id="c38"><use href="#c" x="256" y="360"/></g><g id="c39"><use href="#c" x="292" y="362"/></g><g id="c40"><use href="#c" x="238" y="272"/></g><g id="c41"><use href="#c" x="260" y="252"/></g><g id="c42"><use href="#c" x="142" y="205"/></g><g id="c43"><use href="#c" x="115" y="211"/></g><g id="c44"><use href="#c" x="93" y="265"/></g><g id="c45"><use href="#c" x="55" y="280"/></g><g id="c46"><use href="#c" x="82" y="290"/></g><g id="c47"><use href="#c" x="38" y="298"/></g><g id="c48"><use href="#c" x="655" y="452"/></g><g id="c49"><use href="#c" x="648" y="487"/></g><g id="c50"><use href="#c" x="678" y="440"/></g><g id="c51"><use href="#c" x="745" y="478"/></g><g id="c52"><use href="#c2" x="138" y="255"/></g><g id="c53"><use href="#c2" x="193" y="463"/></g><g id="c54"><use href="#c2" x="286" y="485"/></g><g id="c55"><use href="#c2" x="322" y="420"/></g><g id="c56"><use href="#c" x="451" y="428"/></g><g id="c57"><use href="#c2" x="460" y="572"/></g><g id="c58"><use href="#c" x="577" y="532"/></g><g id="c59"><use href="#c2" x="588" y="554"/></g><g id="c60"><use href="#c" x="962" y="360"/></g><g id="c61"><use href="#c" x="266" y="400"/></g><g id="c62"><use href="#c" x="287" y="400"/></g>
<g id="p1"><use href="#H" x="250" y="611"/></g><g id="p2"><use href="#H" x="794" y="620"/></g><g id="p3"><use href="#m" x="459" y="621"/></g><g id="p4"><use href="#m" x="554" y="483"/></g><g id="p5"><use href="#m" x="355" y="359"/></g><g id="p6"><use href="#m" x="86" y="519"/></g><g id="p7"><use href="#m" x="72" y="542"/></g><g id="p8"><use href="#m" x="737" y="441"/></g><g id="p9"><use href="#m" x="668" y="548"/></g><g id="p10"><use href="#m" x="735" y="528"/></g><g id="p11"><use href="#m" x="767" y="535"/></g><g id="p12"><use href="#m" x="421" y="651"/></g><g id="p13"><use href="#m" x="803" y="582"/></g><g id="p14"><use href="#h" x="396" y="520"/></g><g id="p15"><use href="#h" x="497" y="644"/></g><g id="p16"><use href="#h" x="387" y="660"/></g><g id="p17"><use href="#h" x="643" y="615"/></g><g id="p18"><use href="#h" x="674" y="615"/></g><g id="p19"><use href="#m" x="642" y="650"/></g><g id="p20"><use href="#m" x="718" y="654"/></g><g id="p21"><use href="#h" x="747" y="623"/></g><g id="p22"><use href="#h" x="399" y="613"/></g><g id="p23"><use href="#h" x="337" y="554"/></g><g id="p24"><use href="#h" x="349" y="567"/></g><g id="p25"><use href="#h" x="437" y="435"/></g><g id="p26"><use href="#h" x="762" y="459"/></g>
</g>
</svg>
